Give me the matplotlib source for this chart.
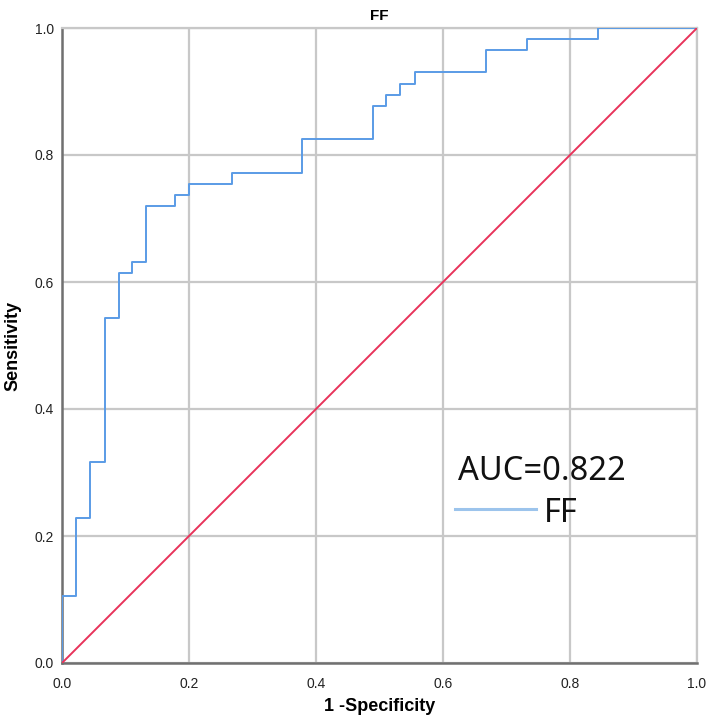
import matplotlib.pyplot as plt

# ROC curve of FF (step vertices)
fpr = [0.000, 0.000, 0.022, 0.022, 0.044, 0.044, 0.067, 0.067, 0.089, 0.089,
       0.111, 0.111, 0.133, 0.133, 0.178, 0.178, 0.200, 0.200, 0.267, 0.267,
       0.378, 0.378, 0.489, 0.489, 0.511, 0.511, 0.533, 0.533, 0.556, 0.556,
       0.667, 0.667, 0.733, 0.733, 0.844, 0.844, 1.000]
tpr = [0.000, 0.105, 0.105, 0.228, 0.228, 0.316, 0.316, 0.544, 0.544, 0.614,
       0.614, 0.632, 0.632, 0.719, 0.719, 0.737, 0.737, 0.754, 0.754, 0.772,
       0.772, 0.825, 0.825, 0.877, 0.877, 0.895, 0.895, 0.912, 0.912, 0.930,
       0.930, 0.965, 0.965, 0.982, 0.982, 1.000, 1.000]
ref_x = [0, 1]
ref_y = [0, 1]
auc = 0.822
ticks = [0.0, 0.2, 0.4, 0.6, 0.8, 1.0]

plt.rcParams['font.family'] = ['Liberation Sans', 'DejaVu Sans']

fig = plt.figure(figsize=(7.09, 7.23), dpi=100)
ax = fig.add_axes([62 / 709, 60 / 723, 635 / 709, 635 / 723])

ax.plot(fpr, tpr, color='#5a9be6', lw=1.4, zorder=3)
ax.plot(ref_x, ref_y, color='#e8335a', lw=1.4, zorder=3)

ax.set_xlim(0, 1)
ax.set_ylim(0, 1)
ax.set_xticks(ticks)
ax.set_yticks(ticks)
ax.set_xticklabels(['%.1f' % t for t in ticks])
ax.set_yticklabels(['%.1f' % t for t in ticks])
ax.tick_params(length=0, labelsize=10, colors='#222222')
ax.tick_params(axis='x', pad=10)
ax.tick_params(axis='y', pad=6)
ax.grid(True, color='#c8c8c8', lw=1.6)
ax.set_axisbelow(True)

for s in ['left', 'bottom']:
    ax.spines[s].set_color('#707070')
    ax.spines[s].set_linewidth(1.8)
for s in ['top', 'right']:
    ax.spines[s].set_color('#c8c8c8')
    ax.spines[s].set_linewidth(1.6)

ax.set_title('FF', fontsize=11, fontweight='bold', pad=6)
ax.set_xlabel('1 -Specificity', fontsize=13, fontweight='bold', labelpad=5)
ax.set_ylabel('Sensitivity', fontsize=13, fontweight='bold', labelpad=9)

# legend-like annotation
ax.text(0.623, 0.302, 'AUC=%.3f' % auc, fontsize=23.5, family=['Noto Sans', 'DejaVu Sans'],
        va='center', ha='left', color='#111111')
ax.plot([0.619, 0.747], [0.243, 0.243], color='#9cc4ec', lw=2.2, zorder=4)
ax.text(0.759, 0.236, 'FF', fontsize=23.5, family=['Noto Sans', 'DejaVu Sans'],
        va='center', ha='left', color='#111111')

fig.savefig('out.png', dpi=100)
